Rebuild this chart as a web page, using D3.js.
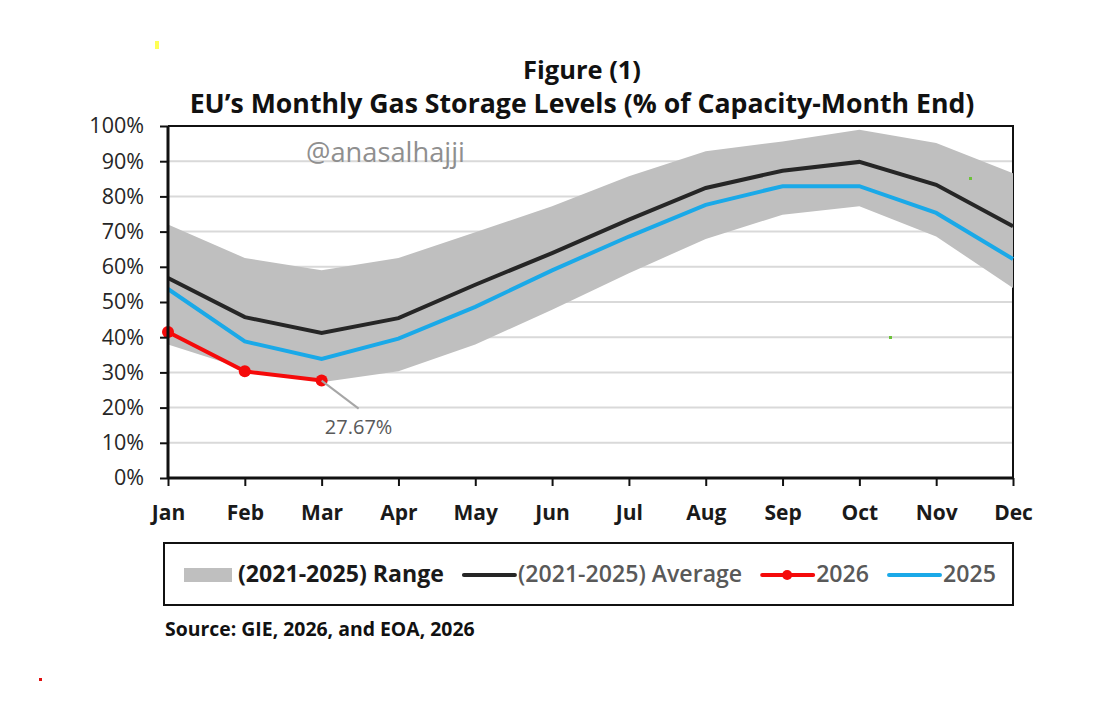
<!DOCTYPE html>
<html>
<head>
<meta charset="utf-8">
<script src="https://cdn.jsdelivr.net/npm/d3@7"></script>
<style>
  body { margin: 0; background: #fff; }
  svg { display: block; font-family: "Open Sans", "Noto Sans", sans-serif; }
</style>
</head>
<body>
<div id="app"></div>
<script>
// month-end storage, % of capacity
const months = ['Jan', 'Feb', 'Mar', 'Apr', 'May', 'Jun', 'Jul', 'Aug', 'Sep', 'Oct', 'Nov', 'Dec']
const rangeLow = [37.9, 31.0, 27.2, 30.3, 37.9, 47.8, 58.2, 67.9, 74.8, 77.2, 68.6, 54.0]
const rangeHigh = [72.0, 62.5, 59.0, 62.5, 69.8, 77.2, 85.7, 92.8, 95.6, 98.9, 95.2, 86.6]
const average = [56.8, 45.7, 41.2, 45.4, 54.9, 63.9, 73.4, 82.4, 87.3, 89.8, 83.3, 71.5]
const y2025 = [53.7, 38.8, 33.8, 39.6, 48.6, 59.0, 68.6, 77.6, 82.9, 82.9, 75.3, 62.2]
const y2026 = [41.5, 30.3, 27.67]
const yTicks = [0, 10, 20, 30, 40, 50, 60, 70, 80, 90, 100]

const W = 1105, H = 704
const svg = d3.select('#app').append('svg').attr('width', W).attr('height', H)

// scale font size so a text fits a given width
function fit(sel, target) {
  const fs = parseFloat(sel.attr('font-size'))
  const len = sel.node().getComputedTextLength()
  sel.attr('font-size', fs * target / len)
  return sel
}

const x = d3.scalePoint().domain(months).range([168, 1013])
const y = d3.scaleLinear().domain([0, 100]).range([478, 126])

// gridlines
svg.append('g').selectAll('line').data(yTicks.filter(d => d > 0 && d < 100)).join('line')
  .attr('x1', 168).attr('x2', 1013)
  .attr('y1', d => y(d)).attr('y2', d => y(d))
  .attr('stroke', '#d9d9d9').attr('stroke-width', 2)

// frame top / right
svg.append('path')
  .attr('d', `M168,${y(100)}H1013V${y(0)}`)
  .attr('fill', 'none').attr('stroke', '#111').attr('stroke-width', 2)

// range band
const band = months.map((m, i) => ({ m, lo: rangeLow[i], hi: rangeHigh[i] }))
svg.append('path').datum(band)
  .attr('d', d3.area().x(d => x(d.m)).y0(d => y(d.lo)).y1(d => y(d.hi)))
  .attr('fill', '#bfbfbf')

const line = d3.line().x(d => x(d.m)).y(d => y(d.v))
const series = (vals) => vals.map((v, i) => ({ m: months[i], v }))

svg.append('path').datum(series(average))
  .attr('d', line).attr('fill', 'none').attr('stroke', '#262626').attr('stroke-width', 4)
svg.append('path').datum(series(y2025))
  .attr('d', line).attr('fill', 'none').attr('stroke', '#1aa9e8').attr('stroke-width', 4)
svg.append('path').datum(series(y2026))
  .attr('d', line).attr('fill', 'none').attr('stroke', '#f50a0a').attr('stroke-width', 4)
svg.append('g').selectAll('circle').data(series(y2026)).join('circle')
  .attr('cx', d => x(d.m)).attr('cy', d => y(d.v)).attr('r', 6)
  .attr('fill', '#f50a0a')

// label on last 2026 point
const last = series(y2026)[y2026.length - 1]
svg.append('line')
  .attr('x1', x(last.m)).attr('y1', y(last.v))
  .attr('x2', x(last.m) + 37).attr('y2', y(last.v) + 28)
  .attr('stroke', '#a6a6a6').attr('stroke-width', 2)
svg.append('text')
  .attr('x', x(last.m) + 37).attr('y', y(last.v) + 53)
  .attr('text-anchor', 'middle').attr('font-size', 20).attr('fill', '#595959')
  .text(last.v.toFixed(2) + '%')

// axes
const yAxis = svg.append('g').attr('transform', 'translate(168,0)')
  .call(d3.axisLeft(y).tickValues(yTicks).tickFormat(d => d + '%').tickSize(8).tickPadding(16))
yAxis.select('.domain').attr('stroke', '#111').attr('stroke-width', 3).attr('d', `M0,${y(0)}V${y(100)}`)
yAxis.selectAll('.tick line').attr('stroke', '#111').attr('stroke-width', 2)
yAxis.selectAll('.tick text').attr('font-size', 21.5).attr('fill', '#262626')
  .attr('font-family', '"Open Sans", sans-serif')

const xAxis = svg.append('g').attr('transform', `translate(0,${y(0)})`)
  .call(d3.axisBottom(x).tickSize(8).tickPadding(19))
xAxis.select('.domain').attr('stroke', '#111').attr('stroke-width', 3).attr('d', 'M168,0H1013')
xAxis.selectAll('.tick line').attr('stroke', '#111').attr('stroke-width', 2)
xAxis.selectAll('.tick text').attr('font-size', 21).attr('font-weight', 700).attr('fill', '#1a1a1a')
  .attr('font-family', '"Open Sans", sans-serif')

// titles
fit(svg.append('text').attr('x', 582).attr('y', 79).attr('text-anchor', 'middle')
  .attr('font-size', 22).attr('font-weight', 700).attr('fill', '#111').text('Figure (1)'), 118)
fit(svg.append('text').attr('x', 582).attr('y', 113).attr('text-anchor', 'middle')
  .attr('font-size', 22).attr('font-weight', 700).attr('fill', '#111')
  .text('EU\u2019s Monthly Gas Storage Levels (% of Capacity-Month End)'), 785)

// watermark
fit(svg.append('text').attr('x', 306).attr('y', 162)
  .attr('font-size', 20).attr('fill', '#8f8f8f').text('@anasalhajji'), 159)

// legend
svg.append('rect').attr('x', 164).attr('y', 543).attr('width', 849).attr('height', 62)
  .attr('fill', 'none').attr('stroke', '#111').attr('stroke-width', 2)

const legendItems = [
  { label: '(2021-2025) Range', kind: 'area', color: '#bfbfbf', text: '#1a1a1a', weight: 700 },
  { label: '(2021-2025) Average', kind: 'line', color: '#262626', text: '#595959', weight: 600 },
  { label: '2026', kind: 'marker', color: '#f50a0a', text: '#595959', weight: 600 },
  { label: '2025', kind: 'line', color: '#1aa9e8', text: '#595959', weight: 600 }
]
const lg = svg.append('g')
const probe = lg.append('text').attr('font-size', 20).attr('font-weight', 700).text(legendItems[0].label)
const legendFs = 20 * 206 / probe.node().getComputedTextLength()
probe.remove()

let cx = 184
const ly = 575
legendItems.forEach(it => {
  if (it.kind === 'area') {
    lg.append('rect').attr('x', cx).attr('y', ly - 7).attr('width', 48).attr('height', 14).attr('fill', it.color)
  } else {
    lg.append('line').attr('x1', cx).attr('x2', cx + 51).attr('y1', ly).attr('y2', ly)
      .attr('stroke', it.color).attr('stroke-width', 4).attr('stroke-linecap', 'round')
    if (it.kind === 'marker') lg.append('circle').attr('cx', cx + 25).attr('cy', ly).attr('r', 5).attr('fill', it.color)
  }
  const t = lg.append('text').attr('x', cx + 54).attr('y', ly + 7)
    .attr('font-size', legendFs).attr('font-weight', it.weight).attr('fill', it.text).text(it.label)
  cx += 54 + t.node().getComputedTextLength() + 20
})

// source
fit(svg.append('text').attr('x', 165).attr('y', 636)
  .attr('font-size', 16).attr('font-weight', 700).attr('fill', '#111')
  .text('Source: GIE, 2026, and EOA, 2026'), 310)

// stray specks in the original image
const specks = [
  { x: 155, y: 41, w: 4, h: 8, c: '#ffff55' },
  { x: 969, y: 177, w: 3, h: 3, c: '#6cc23a' },
  { x: 889, y: 336, w: 3, h: 3, c: '#6cc23a' },
  { x: 39, y: 678, w: 3, h: 3, c: '#e01010' }
]
svg.append('g').selectAll('rect').data(specks).join('rect')
  .attr('x', d => d.x).attr('y', d => d.y).attr('width', d => d.w).attr('height', d => d.h)
  .attr('fill', d => d.c)
</script>
</body>
</html>
